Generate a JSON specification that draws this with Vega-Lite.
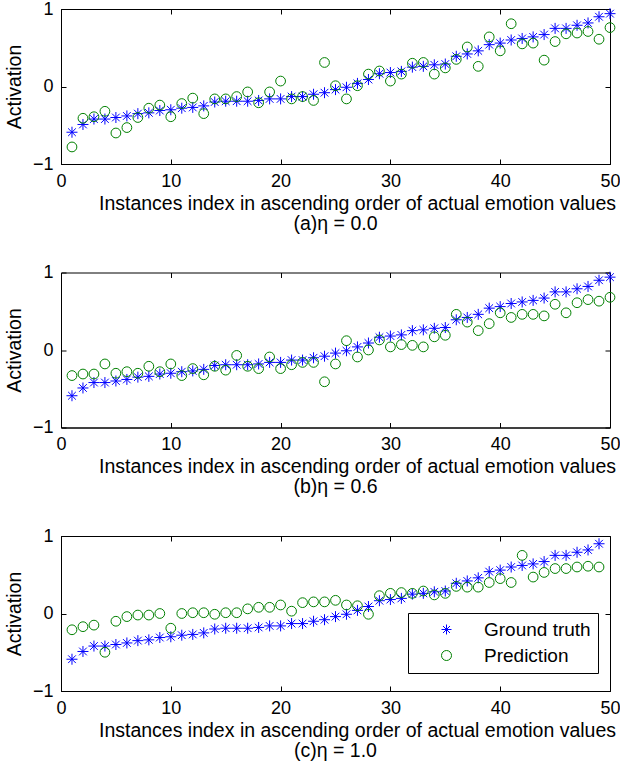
{
  "$schema": "https://vega.github.io/schema/vega-lite/v6.json",
  "padding": {"left": 3, "top": -1, "right": 0, "bottom": 0},
  "background": "white",
  "spacing": 28.5,
  "config": {
    "font": "Liberation Sans",
    "view": {"stroke": "black", "strokeWidth": 1},
    "axis": {"labelFont": "Liberation Sans", "titleFont": "Liberation Sans", "labelFontSize": 18, "titleFontSize": 19.5, "titleFontWeight": "normal", "labelColor": "black", "titleColor": "black", "domainColor": "black", "tickColor": "black", "grid": false, "tickSize": -5, "labelPadding": 13, "labelFlush": false, "labelOverlap": false},
    "axisY": {"titlePadding": 8},
    "title": {"font": "Liberation Sans", "fontSize": 19.5, "fontWeight": "normal", "color": "black"},
    "legend": {"labelFont": "Liberation Sans", "labelFontSize": 19, "labelColor": "black", "strokeColor": "black", "fillColor": "white", "padding": 7, "symbolOffset": 22, "labelOffset": 28, "rowPadding": 6, "symbolStrokeWidth": 1}
  },
  "datasets": {
    "gt": [
      {"i":1,"v":-0.59},{"i":2,"v":-0.49},{"i":3,"v":-0.42},{"i":4,"v":-0.42},{"i":5,"v":-0.40},
      {"i":6,"v":-0.38},{"i":7,"v":-0.35},{"i":8,"v":-0.34},{"i":9,"v":-0.31},{"i":10,"v":-0.30},
      {"i":11,"v":-0.28},{"i":12,"v":-0.27},{"i":13,"v":-0.25},{"i":14,"v":-0.20},{"i":15,"v":-0.19},
      {"i":16,"v":-0.19},{"i":17,"v":-0.19},{"i":18,"v":-0.18},{"i":19,"v":-0.16},{"i":20,"v":-0.16},
      {"i":21,"v":-0.13},{"i":22,"v":-0.13},{"i":23,"v":-0.10},{"i":24,"v":-0.08},{"i":25,"v":-0.04},
      {"i":26,"v":-0.01},{"i":27,"v":0.04},{"i":28,"v":0.09},{"i":29,"v":0.165},{"i":30,"v":0.18},
      {"i":31,"v":0.195},{"i":32,"v":0.25},{"i":33,"v":0.26},{"i":34,"v":0.28},{"i":35,"v":0.29},
      {"i":36,"v":0.39},{"i":37,"v":0.42},{"i":38,"v":0.46},{"i":39,"v":0.54},{"i":40,"v":0.56},
      {"i":41,"v":0.60},{"i":42,"v":0.62},{"i":43,"v":0.64},{"i":44,"v":0.67},{"i":45,"v":0.75},
      {"i":46,"v":0.75},{"i":47,"v":0.79},{"i":48,"v":0.82},{"i":49,"v":0.90},{"i":50,"v":0.94}
    ],
    "pa": [
      {"i":1,"v":-0.78},{"i":2,"v":-0.41},{"i":3,"v":-0.39},{"i":4,"v":-0.32},{"i":5,"v":-0.60},
      {"i":6,"v":-0.53},{"i":7,"v":-0.40},{"i":8,"v":-0.28},{"i":9,"v":-0.24},{"i":10,"v":-0.39},
      {"i":11,"v":-0.22},{"i":12,"v":-0.15},{"i":13,"v":-0.35},{"i":14,"v":-0.16},{"i":15,"v":-0.16},
      {"i":16,"v":-0.13},{"i":17,"v":-0.07},{"i":18,"v":-0.21},{"i":19,"v":-0.07},{"i":20,"v":0.07},
      {"i":21,"v":-0.16},{"i":22,"v":-0.13},{"i":23,"v":-0.18},{"i":24,"v":0.31},{"i":25,"v":0.01},
      {"i":26,"v":-0.16},{"i":27,"v":0.01},{"i":28,"v":0.16},{"i":29,"v":0.20},{"i":30,"v":0.07},
      {"i":31,"v":0.16},{"i":32,"v":0.30},{"i":33,"v":0.31},{"i":34,"v":0.16},{"i":35,"v":0.24},
      {"i":36,"v":0.35},{"i":37,"v":0.51},{"i":38,"v":0.26},{"i":39,"v":0.64},{"i":40,"v":0.46},
      {"i":41,"v":0.81},{"i":42,"v":0.55},{"i":43,"v":0.56},{"i":44,"v":0.34},{"i":45,"v":0.58},
      {"i":46,"v":0.68},{"i":47,"v":0.69},{"i":48,"v":0.71},{"i":49,"v":0.61},{"i":50,"v":0.76}
    ],
    "pb": [
      {"i":1,"v":-0.33},{"i":2,"v":-0.31},{"i":3,"v":-0.31},{"i":4,"v":-0.18},{"i":5,"v":-0.30},
      {"i":6,"v":-0.28},{"i":7,"v":-0.30},{"i":8,"v":-0.21},{"i":9,"v":-0.28},{"i":10,"v":-0.18},
      {"i":11,"v":-0.33},{"i":12,"v":-0.24},{"i":13,"v":-0.32},{"i":14,"v":-0.21},{"i":15,"v":-0.26},
      {"i":16,"v":-0.07},{"i":17,"v":-0.21},{"i":18,"v":-0.24},{"i":19,"v":-0.09},{"i":20,"v":-0.24},
      {"i":21,"v":-0.19},{"i":22,"v":-0.16},{"i":23,"v":-0.16},{"i":24,"v":-0.41},{"i":25,"v":-0.18},
      {"i":26,"v":0.12},{"i":27,"v":-0.09},{"i":28,"v":0.00},{"i":29,"v":0.13},{"i":30,"v":0.04},
      {"i":31,"v":0.07},{"i":32,"v":0.06},{"i":33,"v":0.04},{"i":34,"v":0.17},{"i":35,"v":0.19},
      {"i":36,"v":0.46},{"i":37,"v":0.36},{"i":38,"v":0.25},{"i":39,"v":0.34},{"i":40,"v":0.48},
      {"i":41,"v":0.42},{"i":42,"v":0.46},{"i":43,"v":0.46},{"i":44,"v":0.44},{"i":45,"v":0.59},
      {"i":46,"v":0.48},{"i":47,"v":0.61},{"i":48,"v":0.65},{"i":49,"v":0.63},{"i":50,"v":0.68}
    ],
    "pc": [
      {"i":1,"v":-0.21},{"i":2,"v":-0.17},{"i":3,"v":-0.15},{"i":4,"v":-0.50},{"i":5,"v":-0.10},
      {"i":6,"v":-0.04},{"i":7,"v":-0.02},{"i":8,"v":-0.02},{"i":9,"v":0.00},{"i":10,"v":-0.19},
      {"i":11,"v":0.00},{"i":12,"v":0.01},{"i":13,"v":0.01},{"i":14,"v":-0.01},{"i":15,"v":0.01},
      {"i":16,"v":0.01},{"i":17,"v":0.06},{"i":18,"v":0.08},{"i":19,"v":0.08},{"i":20,"v":0.11},
      {"i":21,"v":0.03},{"i":22,"v":0.14},{"i":23,"v":0.15},{"i":24,"v":0.15},{"i":25,"v":0.17},
      {"i":26,"v":0.11},{"i":27,"v":0.10},{"i":28,"v":-0.01},{"i":29,"v":0.23},{"i":30,"v":0.26},
      {"i":31,"v":0.27},{"i":32,"v":0.26},{"i":33,"v":0.29},{"i":34,"v":0.24},{"i":35,"v":0.26},
      {"i":36,"v":0.35},{"i":37,"v":0.34},{"i":38,"v":0.34},{"i":39,"v":0.40},{"i":40,"v":0.45},
      {"i":41,"v":0.40},{"i":42,"v":0.75},{"i":43,"v":0.47},{"i":44,"v":0.53},{"i":45,"v":0.58},
      {"i":46,"v":0.58},{"i":47,"v":0.60},{"i":48,"v":0.61},{"i":49,"v":0.60}
    ]
  },
  "resolve": {"scale": {"color": "independent", "shape": "independent"}, "legend": {"color": "independent", "shape": "independent"}},
  "vconcat": [
    {
      "width": 549, "height": 155,
      "title": {"text": "(a)η = 0.0", "orient": "bottom", "frame": "group", "anchor": "middle", "offset": 2},
      "resolve": {"axis": {"x": "independent", "y": "independent"}},
      "layer": [
        {
          "data": {"name": "gt"},
          "mark": {"type": "point", "filled": false, "strokeWidth": 1, "size": 121, "opacity": 1},
          "encoding": {
            "x": {"field": "i", "type": "quantitative", "scale": {"domain": [0, 50], "nice": false}, "axis": {"values": [0,10,20,30,40,50], "title": "Instances index in ascending order of actual emotion values", "titleX": 296, "format": "d", "labelOverlap": false}},
            "y": {"field": "v", "type": "quantitative", "scale": {"domain": [-1, 1], "nice": false}, "axis": {"tickCount": 2, "title": "Activation", "format": "d", "labelOverlap": false}},
            "color": {"datum": "Ground truth", "scale": {"domain": ["Ground truth","Prediction"], "range": ["#0000ff","#008000"]}, "legend": null},
            "shape": {"datum": "Ground truth", "scale": {"domain": ["Ground truth","Prediction"], "range": ["M-1,0L1,0M0,-1L0,1M-0.7,-0.7L0.7,0.7M-0.7,0.7L0.7,-0.7", "circle"]}, "legend": null}
          }
        },
        {
          "data": {"name": "pa"},
          "mark": {"type": "point", "filled": false, "strokeWidth": 1, "size": 95, "opacity": 1},
          "encoding": {
            "x": {"field": "i", "type": "quantitative", "axis": {"orient": "top", "values": [0,10,20,30,40,50], "labels": false, "title": null, "domain": false}},
            "y": {"field": "v", "type": "quantitative", "axis": {"orient": "right", "values": [-1,0,1], "labels": false, "title": null, "domain": false}},
            "color": {"datum": "Prediction", "legend": null},
            "shape": {"datum": "Prediction", "legend": null}
          }
        }
      ]
    },
    {
      "width": 549, "height": 155,
      "title": {"text": "(b)η = 0.6", "orient": "bottom", "frame": "group", "anchor": "middle", "offset": 2},
      "resolve": {"axis": {"x": "independent", "y": "independent"}},
      "layer": [
        {
          "data": {"name": "gt"},
          "mark": {"type": "point", "filled": false, "strokeWidth": 1, "size": 121, "opacity": 1},
          "encoding": {
            "x": {"field": "i", "type": "quantitative", "scale": {"domain": [0, 50], "nice": false}, "axis": {"values": [0,10,20,30,40,50], "title": "Instances index in ascending order of actual emotion values", "titleX": 296, "format": "d", "labelOverlap": false}},
            "y": {"field": "v", "type": "quantitative", "scale": {"domain": [-1, 1], "nice": false}, "axis": {"tickCount": 2, "title": "Activation", "format": "d", "labelOverlap": false}},
            "color": {"datum": "Ground truth", "scale": {"domain": ["Ground truth","Prediction"], "range": ["#0000ff","#008000"]}, "legend": null},
            "shape": {"datum": "Ground truth", "scale": {"domain": ["Ground truth","Prediction"], "range": ["M-1,0L1,0M0,-1L0,1M-0.7,-0.7L0.7,0.7M-0.7,0.7L0.7,-0.7", "circle"]}, "legend": null}
          }
        },
        {
          "data": {"name": "pb"},
          "mark": {"type": "point", "filled": false, "strokeWidth": 1, "size": 95, "opacity": 1},
          "encoding": {
            "x": {"field": "i", "type": "quantitative", "axis": {"orient": "top", "values": [0,10,20,30,40,50], "labels": false, "title": null, "domain": false}},
            "y": {"field": "v", "type": "quantitative", "axis": {"orient": "right", "values": [-1,0,1], "labels": false, "title": null, "domain": false}},
            "color": {"datum": "Prediction", "legend": null},
            "shape": {"datum": "Prediction", "legend": null}
          }
        }
      ]
    },
    {
      "width": 549, "height": 155,
      "title": {"text": "(c)η = 1.0", "orient": "bottom", "frame": "group", "anchor": "middle", "offset": 2},
      "resolve": {"axis": {"x": "independent", "y": "independent"}},
      "layer": [
        {
          "data": {"name": "gt"},
          "transform": [{"filter": "datum.i <= 49"}],
          "mark": {"type": "point", "filled": false, "strokeWidth": 1, "size": 121, "opacity": 1},
          "encoding": {
            "x": {"field": "i", "type": "quantitative", "scale": {"domain": [0, 50], "nice": false}, "axis": {"values": [0,10,20,30,40,50], "title": "Instances index in ascending order of actual emotion values", "titleX": 296, "format": "d", "labelOverlap": false}},
            "y": {"field": "v", "type": "quantitative", "scale": {"domain": [-1, 1], "nice": false}, "axis": {"tickCount": 2, "title": "Activation", "format": "d", "labelOverlap": false}},
            "color": {"datum": "Ground truth", "scale": {"domain": ["Ground truth","Prediction"], "range": ["#0000ff","#008000"]}, "legend": {"title": null, "orient": "none", "legendX": 347, "legendY": 77}},
            "shape": {"datum": "Ground truth", "scale": {"domain": ["Ground truth","Prediction"], "range": ["M-1,0L1,0M0,-1L0,1M-0.7,-0.7L0.7,0.7M-0.7,0.7L0.7,-0.7", "circle"]}, "legend": {"title": null, "orient": "none", "legendX": 347, "legendY": 77}}
          }
        },
        {
          "data": {"name": "pc"},
          "mark": {"type": "point", "filled": false, "strokeWidth": 1, "size": 95, "opacity": 1},
          "encoding": {
            "x": {"field": "i", "type": "quantitative", "axis": {"orient": "top", "values": [0,10,20,30,40,50], "labels": false, "title": null, "domain": false}},
            "y": {"field": "v", "type": "quantitative", "axis": {"orient": "right", "values": [-1,0,1], "labels": false, "title": null, "domain": false}},
            "color": {"datum": "Prediction"},
            "shape": {"datum": "Prediction"}
          }
        }
      ]
    }
  ]
}
